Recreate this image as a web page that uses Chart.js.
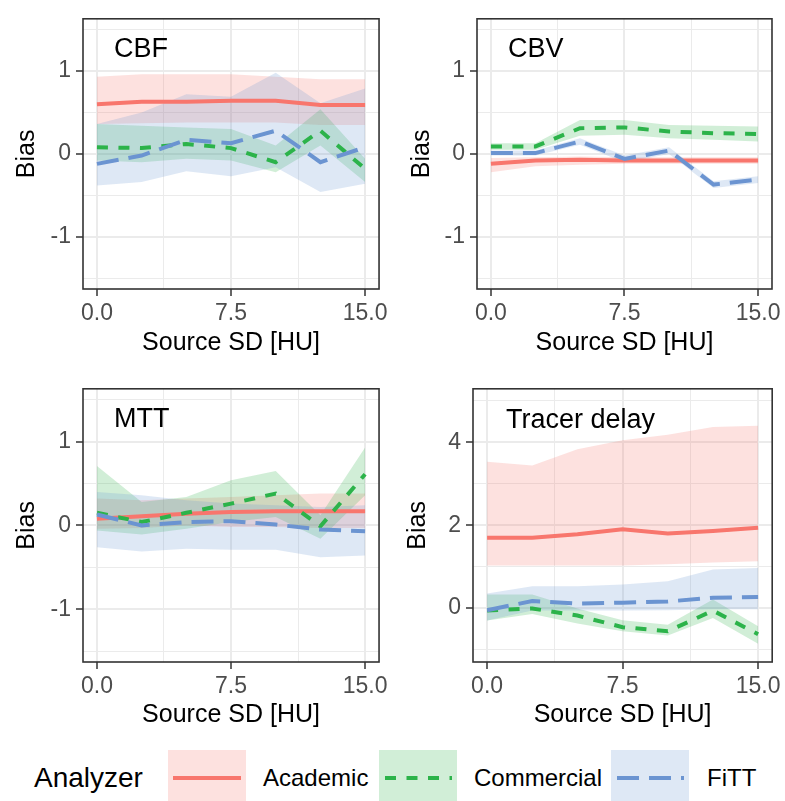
<!DOCTYPE html>
<html>
<head>
<meta charset="utf-8">
<script src="https://cdn.jsdelivr.net/npm/chart.js@4.4.1/dist/chart.umd.min.js"></script>
<style>
  body { margin: 0; background: #fff; font-family: "Liberation Sans", Arial, sans-serif; }
  #wrap { position: relative; width: 785px; height: 801px; overflow: hidden; background: #fff; }
  #wrap canvas { position: absolute; }
  .panel-label { position: absolute; font-size: 27px; line-height: 1; color: #000; white-space: nowrap; }
  .leg-title { position: absolute; left: 34px; top: 764px; font-size: 28px; line-height: 1; color: #000; }
  .leg-text { position: absolute; top: 766px; font-size: 24px; line-height: 1; color: #000; }
  .leg-key { position: absolute; top: 750px; }
</style>
</head>
<body>
<div id="wrap">
  <canvas id="cbf" width="392" height="370" style="left:0px;top:0px"></canvas>
  <canvas id="cbv" width="390" height="370" style="left:395px;top:0px"></canvas>
  <canvas id="mtt" width="392" height="370" style="left:0px;top:370px"></canvas>
  <canvas id="delay" width="394" height="370" style="left:391px;top:370px"></canvas>

  <div class="panel-label" style="left:114px;top:35px">CBF</div>
  <div class="panel-label" style="left:508px;top:35px">CBV</div>
  <div class="panel-label" style="left:114px;top:405px">MTT</div>
  <div class="panel-label" style="left:506px;top:406px">Tracer delay</div>

  <div class="leg-title">Analyzer</div>
  <svg class="leg-key" style="left:168px" width="78" height="56">
    <rect width="78" height="56" fill="rgba(248,118,109,0.22)"></rect>
    <line x1="5" y1="28" x2="73" y2="28" stroke="#F8766D" stroke-width="4"></line>
  </svg>
  <div class="leg-text" style="left:263px">Academic</div>
  <svg class="leg-key" style="left:379px" width="78" height="56">
    <rect width="78" height="56" fill="rgba(44,179,74,0.22)"></rect>
    <line x1="6" y1="28" x2="73" y2="28" stroke="#2CB34A" stroke-width="4" stroke-dasharray="11 10.5"></line>
  </svg>
  <div class="leg-text" style="left:474px">Commercial</div>
  <svg class="leg-key" style="left:611px" width="78" height="56">
    <rect width="78" height="56" fill="rgba(107,148,209,0.22)"></rect>
    <line x1="6" y1="28" x2="73" y2="28" stroke="#6B94D1" stroke-width="4" stroke-dasharray="22 10"></line>
  </svg>
  <div class="leg-text" style="left:707px">FiTT</div>
</div>

<script>
// source SD steps on the x axis
const xValues = [0, 2.5, 5, 7.5, 10, 12.5, 15];
const xTicks = [0, 3.75, 7.5, 11.25, 15];
const xTickLabels = ['0.0', '', '7.5', '', '15.0'];

const biasTicks = [-1.5, -1, -0.5, 0, 0.5, 1, 1.5];
const biasTickLabels = ['', '-1', '', '0', '', '1', ''];
const delayTicks = [-1, 0, 1, 2, 3, 4, 5];
const delayTickLabels = ['', '0', '', '2', '', '4', ''];

// CBF
const cbfAcademic     = [0.60, 0.63, 0.63, 0.64, 0.64, 0.59, 0.59];
const cbfAcademicLow  = [0.36, 0.37, 0.38, 0.38, 0.38, 0.35, 0.35];
const cbfAcademicHigh = [0.93, 0.96, 0.96, 0.96, 0.93, 0.90, 0.90];
const cbfCommercial     = [0.08, 0.07, 0.12, 0.07, -0.10, 0.28, -0.18];
const cbfCommercialLow  = [-0.08, -0.10, -0.06, -0.08, -0.22, 0.10, -0.34];
const cbfCommercialHigh = [0.36, 0.34, 0.32, 0.30, 0.10, 0.54, -0.06];
const cbfFitt     = [-0.12, -0.02, 0.17, 0.13, 0.28, -0.10, 0.08];
const cbfFittLow  = [-0.38, -0.34, -0.21, -0.27, -0.16, -0.46, -0.36];
const cbfFittHigh = [0.36, 0.50, 0.72, 0.69, 0.98, 0.61, 0.79];

// CBV
const cbvAcademic     = [-0.12, -0.08, -0.07, -0.08, -0.08, -0.08, -0.08];
const cbvAcademicLow  = [-0.22, -0.15, -0.13, -0.12, -0.12, -0.12, -0.12];
const cbvAcademicHigh = [-0.05, -0.04, -0.03, -0.04, -0.04, -0.04, -0.04];
const cbvCommercial     = [0.09, 0.09, 0.31, 0.32, 0.27, 0.25, 0.24];
const cbvCommercialLow  = [0.05, 0.05, 0.22, 0.23, 0.19, 0.17, 0.15];
const cbvCommercialHigh = [0.13, 0.13, 0.41, 0.41, 0.35, 0.34, 0.33];
const cbvFitt     = [0.01, 0.01, 0.15, -0.06, 0.04, -0.37, -0.31];
const cbvFittLow  = [-0.02, -0.02, 0.11, -0.10, 0.00, -0.41, -0.35];
const cbvFittHigh = [0.04, 0.04, 0.19, -0.02, 0.08, -0.33, -0.27];

// MTT
const mttAcademic     = [0.08, 0.11, 0.14, 0.16, 0.17, 0.17, 0.17];
const mttAcademicLow  = [-0.04, -0.03, 0.00, -0.02, -0.02, -0.03, -0.03];
const mttAcademicHigh = [0.32, 0.30, 0.32, 0.34, 0.36, 0.38, 0.38];
const mttCommercial     = [0.15, 0.04, 0.15, 0.26, 0.38, -0.01, 0.61];
const mttCommercialLow  = [-0.06, -0.11, -0.04, 0.04, 0.10, -0.16, 0.36];
const mttCommercialHigh = [0.71, 0.28, 0.34, 0.54, 0.65, 0.12, 0.93];
const mttFitt     = [0.13, 0.00, 0.04, 0.05, 0.01, -0.05, -0.07];
const mttFittLow  = [-0.26, -0.31, -0.28, -0.29, -0.29, -0.38, -0.36];
const mttFittHigh = [0.40, 0.36, 0.30, 0.26, 0.24, 0.22, 0.24];

// Tracer delay
const delayAcademic     = [1.70, 1.70, 1.78, 1.90, 1.80, 1.86, 1.94];
const delayAcademicLow  = [1.03, 1.03, 1.03, 1.03, 1.06, 1.10, 1.13];
const delayAcademicHigh = [3.53, 3.44, 3.83, 4.05, 4.18, 4.37, 4.40];
const delayCommercial     = [-0.06, -0.01, -0.18, -0.46, -0.56, -0.06, -0.63];
const delayCommercialLow  = [-0.30, -0.14, -0.37, -0.56, -0.66, -0.24, -0.86];
const delayCommercialHigh = [0.33, 0.33, -0.01, -0.29, -0.40, 0.21, -0.44];
const delayFitt     = [-0.05, 0.17, 0.11, 0.13, 0.16, 0.25, 0.27];
const delayFittLow  = [-0.30, -0.06, -0.06, -0.06, -0.05, -0.03, -0.03];
const delayFittHigh = [0.35, 0.53, 0.53, 0.57, 0.65, 0.93, 0.97];

Chart.defaults.font.family = '"Liberation Sans", Arial, sans-serif';

const analyzers = [
    { name: 'Academic', line: '#F8766D', fill: 'rgba(248,118,109,0.22)', dash: [] },
    { name: 'Commercial', line: '#2CB34A', fill: 'rgba(44,179,74,0.22)', dash: [11, 10.5] },
    { name: 'FiTT', line: '#6B94D1', fill: 'rgba(107,148,209,0.22)', dash: [22, 10] },
];

function pts(ys) {
    return xValues.map((x, i) => ({ x: x, y: ys[i] }));
}

// draws the dark box round the panel, like theme_bw
const panelBorder = {
    id: 'panelBorder',
    afterDraw(chart) {
        const a = chart.chartArea, ctx = chart.ctx;
        ctx.save();
        ctx.strokeStyle = '#333333';
        ctx.lineWidth = 1.6;
        ctx.strokeRect(a.left, a.top, a.right - a.left, a.bottom - a.top);
        ctx.restore();
    }
};

function makePanel(id, series, y, box) {
    const datasets = [];
    // ribbons first in the list so fill '+1' points at the lower bound
    series.forEach((s, k) => {
        const a = analyzers[k];
        datasets.push({ data: pts(s.high), borderWidth: 0, pointRadius: 0, fill: '+1', backgroundColor: a.fill, order: 5 - k });
        datasets.push({ data: pts(s.low), borderWidth: 0, pointRadius: 0, fill: false, order: 5 - k });
    });
    series.forEach((s, k) => {
        const a = analyzers[k];
        datasets.push({
            label: a.name,
            data: pts(s.mean),
            borderColor: a.line,
            borderWidth: 4,
            borderDash: a.dash,
            borderCapStyle: 'butt',
            pointRadius: 0,
            fill: false,
            tension: 0,
            order: 2 - k,
        });
    });

    new Chart(document.getElementById(id).getContext('2d'), {
        type: 'line',
        data: { datasets: datasets },
        options: {
            responsive: false,
            animation: false,
            events: [],
            layout: { padding: { top: box.padTop, right: box.padRight, left: 0, bottom: 0 } },
            plugins: { legend: { display: false }, tooltip: { enabled: false } },
            scales: {
                x: {
                    type: 'linear',
                    min: -0.78,
                    max: 15.78,
                    afterBuildTicks: s => { s.ticks = xTicks.map(v => ({ value: v })) },
                    afterFit: s => { s.height = box.xHeight },
                    border: { display: false },
                    grid: {
                        color: '#EBEBEB',
                        lineWidth: c => xTickLabels[c.index] ? 2 : 1,
                        tickLength: 7,
                        tickWidth: 1.5,
                        tickColor: c => xTickLabels[c.index] ? '#333333' : 'rgba(0,0,0,0)',
                    },
                    ticks: {
                        autoSkip: false,
                        maxRotation: 0,
                        padding: 4,
                        color: '#4D4D4D',
                        font: { size: 23 },
                        callback: (v, i) => xTickLabels[i],
                    },
                    title: {
                        display: true,
                        text: 'Source SD [HU]',
                        color: '#000',
                        font: { size: 25 },
                        padding: { top: 0, bottom: box.titleBottom },
                    },
                },
                y: {
                    min: y.min,
                    max: y.max,
                    afterBuildTicks: s => { s.ticks = y.ticks.map(v => ({ value: v })) },
                    afterFit: s => { s.width = box.yWidth },
                    border: { display: false },
                    grid: {
                        color: '#EBEBEB',
                        lineWidth: c => y.labels[c.index] ? 2 : 1,
                        tickLength: 7,
                        tickWidth: 1.5,
                        tickColor: c => y.labels[c.index] ? '#333333' : 'rgba(0,0,0,0)',
                    },
                    ticks: {
                        autoSkip: false,
                        padding: 5,
                        color: '#4D4D4D',
                        font: { size: 23 },
                        callback: (v, i) => y.labels[i],
                    },
                    title: {
                        display: true,
                        text: 'Bias',
                        color: '#000',
                        font: { size: 25 },
                        padding: { top: 12, bottom: 0 },
                    },
                },
            },
        },
        plugins: [panelBorder],
    });
}

const biasAxis = { min: -1.63, max: 1.63, ticks: biasTicks, labels: biasTickLabels };
const delayAxis = { min: -1.30, max: 5.29, ticks: delayTicks, labels: delayTickLabels };

makePanel('cbf', [
    { mean: cbfAcademic, low: cbfAcademicLow, high: cbfAcademicHigh },
    { mean: cbfCommercial, low: cbfCommercialLow, high: cbfCommercialHigh },
    { mean: cbfFitt, low: cbfFittLow, high: cbfFittHigh },
], biasAxis, { padTop: 15, padRight: 11, yWidth: 83, xHeight: 81, titleBottom: 12 });

makePanel('cbv', [
    { mean: cbvAcademic, low: cbvAcademicLow, high: cbvAcademicHigh },
    { mean: cbvCommercial, low: cbvCommercialLow, high: cbvCommercialHigh },
    { mean: cbvFitt, low: cbvFittLow, high: cbvFittHigh },
], biasAxis, { padTop: 15, padRight: 11, yWidth: 82, xHeight: 81, titleBottom: 12 });

makePanel('mtt', [
    { mean: mttAcademic, low: mttAcademicLow, high: mttAcademicHigh },
    { mean: mttCommercial, low: mttCommercialLow, high: mttCommercialHigh },
    { mean: mttFitt, low: mttFittLow, high: mttFittHigh },
], biasAxis, { padTop: 15, padRight: 11, yWidth: 83, xHeight: 78, titleBottom: 10 });

makePanel('delay', [
    { mean: delayAcademic, low: delayAcademicLow, high: delayAcademicHigh },
    { mean: delayCommercial, low: delayCommercialLow, high: delayCommercialHigh },
    { mean: delayFitt, low: delayFittLow, high: delayFittHigh },
], delayAxis, { padTop: 15, padRight: 11, yWidth: 82, xHeight: 78, titleBottom: 10 });
</script>
</body>
</html>
